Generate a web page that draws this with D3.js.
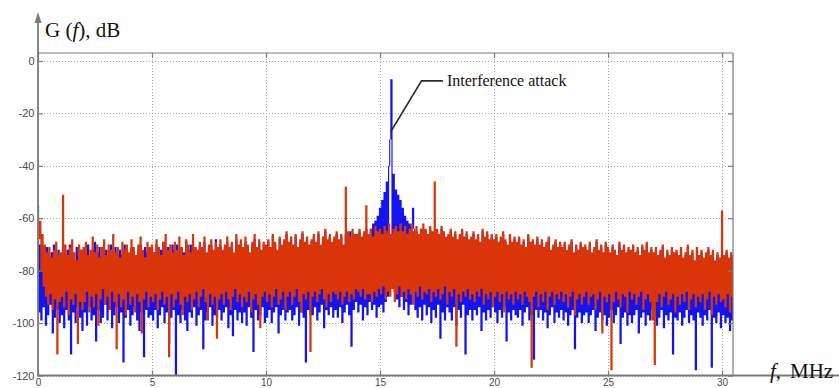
<!DOCTYPE html>
<html><head><meta charset="utf-8">
<script src="https://cdn.jsdelivr.net/npm/d3@7"></script>
<style>html,body{margin:0;padding:0;background:#fff;} svg{display:block;}</style>
</head><body>
<svg id="chart" width="839" height="388"></svg>
<script>
// ---------- data ----------
const freqStep = 0.05;               // MHz between samples, first sample at 0 MHz
const xTicks = [0, 5, 10, 15, 20, 25, 30];
const yTicks = [0, -20, -40, -60, -80, -100, -120];
const xLabel = "MHz";
const yLabelParts = ["G (", "f", "), dB"];
const annotationText = "Interference attack";
const annotationPoint = [15.47, -27];   // [MHz, dB] on the blue spike
const annotationElbow = [16.82, -7.6];
const annotationEnd = [17.76, -7.6];

// spectrum without attack (red), dB
const redDb = [
-55,-68,-61,-80,-66,-86,-70,-90,-73,-93,-71,-89,-75,-95,-72,-91,-69,-112,-74,-92,
-73,-90,-51,-94,-70,-88,-74,-97,-71,-91,-68,-93,-73,-89,-76,-108,-70,-92,-72,-95,
-71,-92,-69,-88,-74,-96,-72,-90,-67,-94,-73,-89,-70,-101,-75,-91,-71,-87,-68,-93,
-74,-90,-70,-95,-72,-88,-66,-92,-73,-110,-71,-89,-75,-94,-69,-91,-72,-97,-70,-88,
-73,-93,-68,-90,-71,-96,-74,-89,-70,-92,-67,-104,-72,-91,-75,-88,-69,-94,-71,-90,
-70,-92,-73,-89,-68,-95,-71,-91,-74,-88,-69,-93,-66,-90,-72,-113,-70,-89,-73,-94,
-69,-91,-72,-88,-67,-93,-71,-97,-74,-90,-68,-92,-70,-89,-73,-95,-66,-91,-71,-88,
-72,-94,-69,-90,-71,-87,-67,-92,-73,-99,-70,-89,-68,-93,-72,-90,-69,-106,-71,-91,
-68,-89,-72,-93,-70,-88,-67,-91,-71,-95,-69,-90,-73,-87,-66,-92,-70,-89,-68,-94,
-71,-90,-67,-92,-70,-88,-73,-96,-69,-91,-66,-89,-71,-93,-68,-102,-72,-90,-69,-88,
-70,-92,-68,-89,-71,-94,-66,-90,-69,-87,-72,-93,-67,-91,-70,-88,-68,-95,-65,-90,
-69,-88,-67,-93,-70,-90,-66,-87,-71,-92,-68,-96,-65,-89,-69,-91,-67,-88,-70,-111,
-68,-90,-66,-88,-69,-92,-65,-89,-70,-87,-67,-91,-64,-94,-68,-89,-66,-92,-69,-88,
-67,-89,-65,-91,-68,-88,-66,-93,-70,-90,-48,-88,-65,-92,-67,-89,-64,-91,-66,-87,
-66,-88,-64,-90,-67,-87,-65,-91,-55,-89,-66,-89,-64,-92,-67,-88,-63,-90,-65,-87,
-64,-89,-66,-86,-63,-91,-65,-88,-62,-90,-66,-87,-64,-92,-63,-89,-65,-86,-62,-90,
-65,-88,-63,-91,-66,-87,-64,-89,-62,-93,-65,-88,-63,-90,-66,-86,-64,-91,-62,-88,
-64,-89,-66,-87,-63,-92,-65,-88,-46,-90,-64,-87,-66,-91,-63,-89,-65,-86,-67,-93,
-66,-88,-64,-90,-67,-87,-65,-109,-68,-89,-66,-92,-64,-88,-67,-90,-65,-87,-68,-91,
-67,-89,-65,-92,-68,-88,-66,-90,-69,-87,-64,-93,-67,-89,-65,-91,-68,-88,-66,-94,
-68,-90,-66,-88,-69,-92,-67,-89,-65,-96,-68,-88,-70,-91,-66,-89,-69,-93,-67,-88,
-69,-91,-67,-89,-70,-93,-68,-88,-71,-90,-66,-92,-69,-117,-68,-90,-70,-88,-67,-94,
-70,-89,-68,-92,-71,-88,-69,-95,-67,-90,-72,-88,-70,-93,-68,-89,-71,-91,-69,-88,
-71,-92,-69,-89,-72,-94,-70,-90,-68,-88,-73,-97,-70,-91,-72,-89,-69,-93,-71,-90,
-70,-88,-72,-93,-69,-90,-73,-89,-71,-95,-68,-91,-72,-88,-70,-104,-73,-90,-69,-92,
-71,-89,-73,-118,-70,-92,-72,-88,-74,-91,-69,-94,-72,-89,-70,-90,-73,-96,-71,-88,
-72,-91,-70,-89,-73,-93,-71,-90,-74,-88,-70,-95,-72,-91,-69,-89,-73,-92,-71,-99,
-73,-116,-71,-92,-74,-89,-72,-94,-70,-90,-75,-88,-72,-93,-74,-91,-71,-89,-73,-96,
-72,-90,-74,-93,-71,-89,-75,-92,-73,-88,-70,-95,-74,-91,-72,-89,-76,-94,-71,-90,
-74,-92,-72,-89,-75,-95,-73,-91,-71,-88,-74,-97,-72,-90,-76,-93,-73,-89,-75,-92,
-57,-91,-74,-94,-72,-89,-75,-96,-73,-90,-74
];

// spectrum with interference attack (blue), dB
const blueDb = [
-62,-96,-70,-99,-72,-94,-74,-101,-71,-97,-75,-93,-73,-104,-70,-98,-76,-95,-72,-100,
-74,-97,-71,-102,-75,-95,-72,-99,-70,-112,-73,-96,-76,-100,-71,-94,-74,-98,-72,-103,
-73,-96,-75,-101,-70,-94,-74,-99,-72,-97,-69,-107,-73,-95,-71,-100,-75,-98,-72,-93,
-72,-99,-74,-95,-70,-102,-73,-97,-71,-94,-75,-100,-72,-96,-74,-115,-70,-98,-73,-95,
-74,-101,-71,-97,-73,-94,-75,-99,-72,-103,-70,-96,-74,-113,-71,-95,-73,-98,-75,-97,
-71,-99,-73,-95,-70,-102,-74,-97,-72,-94,-69,-100,-73,-96,-71,-108,-74,-98,-70,-95,
-72,-121,-70,-97,-74,-100,-71,-95,-73,-99,-69,-103,-72,-96,-70,-98,-74,-94,-71,-101,
-73,-97,-70,-95,-72,-110,-69,-99,-74,-96,-71,-94,-70,-101,-73,-97,-68,-98,-72,-95,
-70,-99,-73,-96,-71,-94,-69,-102,-72,-97,-70,-105,-74,-95,-68,-99,-71,-96,-69,-100,
-72,-96,-69,-101,-71,-94,-74,-98,-70,-111,-68,-95,-72,-99,-69,-97,-73,-94,-70,-100,
-71,-98,-69,-95,-72,-100,-67,-96,-70,-94,-73,-104,-68,-97,-71,-95,-69,-99,-66,-96,
-70,-95,-68,-99,-71,-97,-67,-94,-72,-101,-69,-96,-66,-98,-70,-115,-68,-95,-71,-97,
-69,-97,-67,-94,-70,-99,-66,-96,-71,-93,-68,-102,-65,-95,-69,-97,-67,-94,-70,-98,
-68,-95,-66,-98,-69,-94,-67,-100,-71,-96,-66,-93,-68,-97,-65,-109,-69,-95,-66,-92,
-67,-96,-65,-93,-68,-99,-66,-94,-64,-97,-67,-92,-64,-95,-62,-93,-61,-98,-59,-94,
-56,-93,-53,-96,-50,-92,-46,-90,-40,-30,-7,-85,-43,-88,-49,-91,-51,-94,-53,-90,
-56,-95,-59,-92,-61,-97,-62,-93,-63,-56,-64,-95,-65,-98,-66,-94,-64,-99,-67,-93,
-65,-97,-67,-94,-64,-100,-66,-95,-68,-98,-65,-93,-67,-106,-64,-96,-66,-99,-68,-94,
-67,-96,-65,-99,-68,-94,-66,-101,-69,-95,-67,-98,-65,-93,-68,-112,-66,-97,-69,-95,
-68,-99,-66,-95,-69,-97,-67,-94,-70,-103,-65,-96,-68,-99,-66,-95,-69,-98,-67,-94,
-69,-96,-67,-100,-70,-95,-68,-98,-66,-94,-69,-107,-71,-96,-67,-99,-70,-95,-68,-97,
-70,-98,-68,-95,-71,-101,-69,-96,-72,-94,-67,-99,-70,-97,-69,-114,-71,-95,-68,-98,
-71,-95,-69,-99,-72,-96,-70,-102,-68,-97,-73,-94,-71,-100,-69,-96,-72,-98,-70,-95,
-72,-99,-70,-96,-73,-101,-71,-97,-69,-95,-74,-110,-71,-98,-73,-96,-70,-100,-72,-97,
-71,-96,-73,-100,-70,-97,-74,-95,-72,-103,-69,-98,-73,-96,-71,-99,-74,-97,-70,-101,
-72,-98,-74,-95,-71,-100,-73,-97,-75,-94,-70,-108,-73,-98,-71,-96,-74,-101,-72,-97,
-73,-100,-71,-97,-74,-95,-72,-104,-75,-98,-71,-96,-73,-101,-70,-97,-74,-99,-72,-95,
-74,-97,-72,-101,-75,-98,-73,-95,-71,-102,-76,-97,-73,-99,-75,-96,-72,-112,-74,-98,
-73,-99,-75,-96,-72,-101,-76,-98,-74,-95,-71,-100,-75,-97,-73,-99,-77,-118,-72,-96,
-75,-98,-73,-101,-76,-97,-74,-99,-72,-95,-75,-117,-73,-98,-77,-100,-74,-96,-76,-102,
-74,-97,-75,-100,-73,-98,-76,-103,-74,-99,-75
];

// ---------- layout ----------
const W = 839, H = 388;
const plot = {left: 38, right: 733, top: 53, bottom: 375.5};
const x = d3.scaleLinear().domain([0, 30.48]).range([plot.left, plot.right]);
const y = d3.scaleLinear().domain([-120, 3.05]).range([plot.bottom, plot.top]);

const svg = d3.select("#chart");
const axisGray = "#7a7a7a";
const textGray = "#4a4a4a";
const serif = "'Liberation Serif','Times New Roman',serif";
const sans = "'Liberation Sans',Arial,sans-serif";

svg.append("defs").append("clipPath").attr("id", "clip")
  .append("rect").attr("x", plot.left).attr("y", plot.top)
  .attr("width", plot.right - plot.left).attr("height", plot.bottom - plot.top);

// grid
const grid = svg.append("g").attr("stroke", "#a8a8a8").attr("stroke-width", 1)
  .attr("stroke-dasharray", "1,2");
grid.selectAll("line.v").data(xTicks).join("line")
  .attr("x1", d => Math.round(x(d)) + 0.5).attr("x2", d => Math.round(x(d)) + 0.5)
  .attr("y1", plot.top).attr("y2", plot.bottom);
grid.selectAll("line.h").data(yTicks).join("line")
  .attr("y1", d => Math.round(y(d)) + 0.5).attr("y2", d => Math.round(y(d)) + 0.5)
  .attr("x1", plot.left).attr("x2", plot.right);

// series: each sample interval is filled between its two end values (dense spectrum trace)
const trace = d3.area().curve(d3.curveStepAfter)
  .x((d, i) => x(i * freqStep))
  .y0((d, i, a) => y(Math.min(d, i + 1 < a.length ? a[i + 1] : d)))
  .y1((d, i, a) => y(Math.max(d, i + 1 < a.length ? a[i + 1] : d)));
const dataG = svg.append("g").attr("clip-path", "url(#clip)");
dataG.append("path").datum(blueDb).attr("d", trace)
  .attr("fill", "#1414f0").attr("stroke", "none");
dataG.append("path").datum(redDb).attr("d", trace)
  .attr("fill", "#da3508").attr("stroke", "none");

// axes (ticks + labels)
const yAxis = d3.axisLeft(y).tickValues(yTicks).tickSize(-5).tickPadding(3.5)
  .tickFormat(d => String(d));
const gy = svg.append("g").attr("transform", `translate(${plot.left},0)`).call(yAxis);
const yAxisR = d3.axisRight(y).tickValues(yTicks).tickSize(-5).tickFormat("");
const gyr = svg.append("g").attr("transform", `translate(${plot.right},0)`).call(yAxisR);
const xAxis = d3.axisBottom(x).tickValues(xTicks).tickSize(-5).tickPadding(3.5)
  .tickFormat(d => String(d));
const gx = svg.append("g").attr("transform", `translate(0,${plot.bottom})`).call(xAxis);
const xAxisT = d3.axisTop(x).tickValues(xTicks).tickSize(-5).tickFormat("");
const gxt = svg.append("g").attr("transform", `translate(0,${plot.top})`).call(xAxisT);
[gy, gyr, gx, gxt].forEach(g => {
  g.select(".domain").remove();
  g.selectAll(".tick line").attr("stroke", axisGray).attr("stroke-width", 1.2);
  g.selectAll(".tick text").attr("fill", textGray).attr("font-size", 11)
    .attr("font-family", sans);
});
gx.selectAll(".tick text").attr("font-size", 10);

// box and axis lines
svg.append("line").attr("x1", plot.left).attr("x2", plot.right)
  .attr("y1", plot.top).attr("y2", plot.top).attr("stroke", axisGray).attr("stroke-width", 1.2);
svg.append("line").attr("x1", plot.right).attr("x2", plot.right)
  .attr("y1", plot.top).attr("y2", plot.bottom).attr("stroke", axisGray).attr("stroke-width", 1.2);
svg.append("line").attr("x1", plot.left).attr("x2", W)
  .attr("y1", plot.bottom).attr("y2", plot.bottom).attr("stroke", axisGray).attr("stroke-width", 1.8);
svg.append("line").attr("x1", plot.left).attr("x2", plot.left)
  .attr("y1", plot.bottom + 1).attr("y2", 20).attr("stroke", axisGray).attr("stroke-width", 1.8);
svg.append("path")
  .attr("d", `M${plot.left},12 L${plot.left - 3.5},23 L${plot.left + 3.5},23 Z`)
  .attr("fill", axisGray);

// axis titles
const yt = svg.append("text").attr("x", 45).attr("y", 37)
  .attr("font-family", serif).attr("font-size", 21).attr("fill", "#111");
yt.append("tspan").text(yLabelParts[0]);
yt.append("tspan").attr("font-style", "italic").text(yLabelParts[1]);
yt.append("tspan").text(yLabelParts[2]);

const xt = svg.append("text").attr("y", 378).attr("font-family", serif)
  .attr("font-size", 21).attr("fill", "#111");
xt.append("tspan").attr("x", 770).attr("font-style", "italic").text("f");
xt.append("tspan").text(",");
xt.append("tspan").attr("x", 790).text(xLabel);

// annotation
svg.append("path")
  .attr("d", d3.line()([[x(annotationPoint[0]), y(annotationPoint[1])],
                        [x(annotationElbow[0]), y(annotationElbow[1])],
                        [x(annotationEnd[0]), y(annotationEnd[1])]]))
  .attr("fill", "none").attr("stroke", "#2b2b2b").attr("stroke-width", 1.6);
svg.append("text").attr("x", x(annotationEnd[0]) + 4).attr("y", y(annotationEnd[1]) + 5.5)
  .attr("font-family", serif).attr("font-size", 16).attr("fill", "#111")
  .text(annotationText);
</script>
</body></html>
